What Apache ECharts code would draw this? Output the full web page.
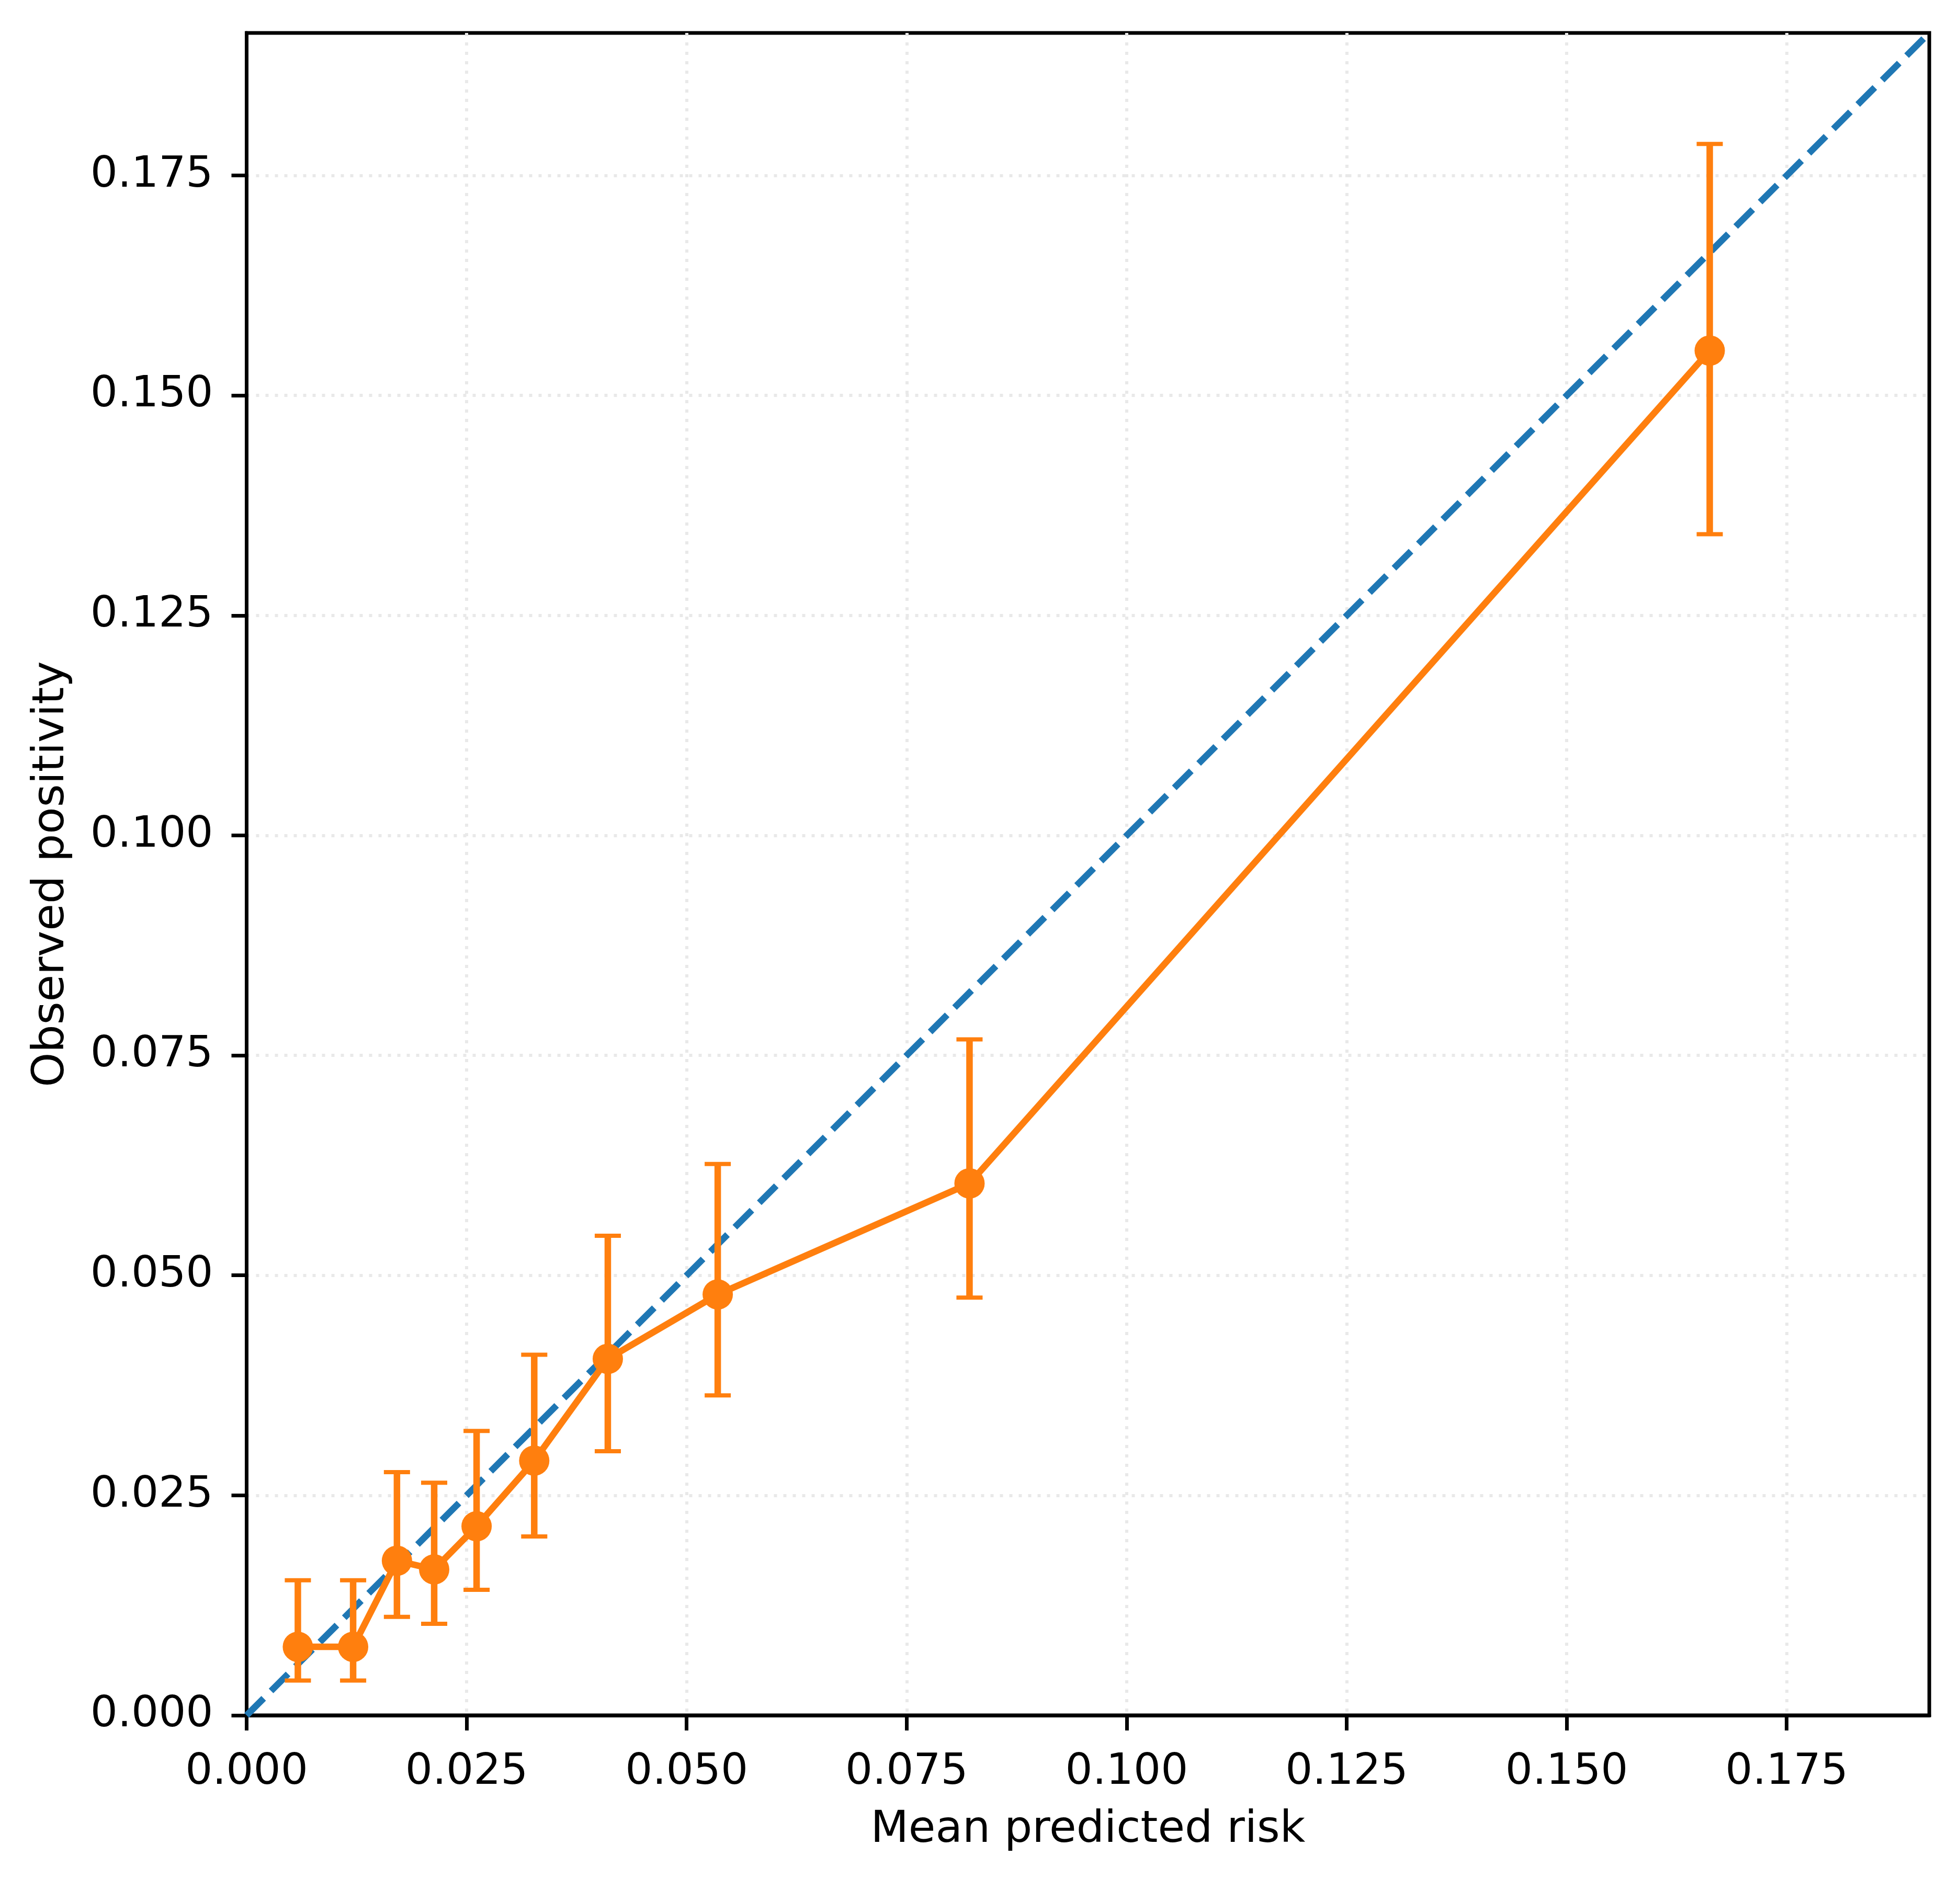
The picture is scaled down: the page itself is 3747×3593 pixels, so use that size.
<!DOCTYPE html>
<html>
<head>
<meta charset="utf-8">
<script src="https://cdn.jsdelivr.net/npm/echarts@6/dist/echarts.min.js"></script>
<style>
  html, body { margin: 0; padding: 0; background: #ffffff; }
  #chart { width: 3747px; height: 3593px; }
</style>
</head>
<body>
<div id="chart"></div>
<script>
// ---- data ----
const meanPredicted = [0.00582, 0.01210, 0.01708, 0.02131, 0.02613, 0.03268, 0.04104, 0.05353, 0.08214, 0.16625];
const observedPositivity = [0.00778, 0.00778, 0.01757, 0.01658, 0.02149, 0.02894, 0.04051, 0.04783, 0.06045, 0.15510];
const ciLower = [0.00395, 0.00395, 0.01119, 0.01040, 0.01426, 0.02033, 0.03002, 0.03636, 0.04747, 0.13423];
const ciUpper = [0.01535, 0.01535, 0.02764, 0.02644, 0.03231, 0.04098, 0.05450, 0.06266, 0.07682, 0.17859];
const axisLimit = 0.1912;
const tickValues = [0, 0.025, 0.05, 0.075, 0.1, 0.125, 0.15, 0.175];
const diagonal = [[0, 0], [axisLimit, axisLimit]];
const xTitle = 'Mean predicted risk';
const yTitle = 'Observed positivity';

const FONT = 'DejaVu Sans';
const FS = 84;
const TFS = 82;
const AXW = 7;

const pointData = meanPredicted.map((x, i) => [x, observedPositivity[i]]);
const errData = meanPredicted.map((x, i) => [x, ciLower[i], ciUpper[i]]);

function axisCommon(name, isX) {
  return {
    type: 'value',
    min: 0,
    max: axisLimit,
    interval: 0.025,
    name: name,
    nameLocation: 'middle',
    nameGap: isX ? 178 : 330,
    nameTextStyle: { fontFamily: FONT, fontSize: FS, color: '#000' },
    axisLine: { show: true, onZero: false, lineStyle: { color: '#000', width: AXW } },
    axisTick: { show: true, inside: false, length: 29, customValues: tickValues, lineStyle: { color: '#000', width: AXW } },
    axisLabel: {
      show: true,
      customValues: tickValues,
      margin: isX ? 69 : 64,
      fontFamily: FONT, fontSize: TFS, color: '#000',
      formatter: v => v.toFixed(3)
    },
    splitLine: { show: true, lineStyle: { color: '#e9e9e9', width: 6, type: [6, 12] } }
  };
}

const chart = echarts.init(document.getElementById('chart'), null, { renderer: 'canvas' });
chart.setOption({
  backgroundColor: '#ffffff',
  animation: false,
  grid: { left: 471.5, right: 58.7, top: 63, bottom: 313, show: true, borderColor: '#000', borderWidth: AXW, backgroundColor: 'transparent' },
  xAxis: axisCommon(xTitle, true),
  yAxis: axisCommon(yTitle, false),
  series: [
    {
      type: 'line',
      data: diagonal,
      symbol: 'none',
      lineStyle: { color: '#1f77b4', width: 12.5, type: [46, 20] },
      z: 2
    },
    {
      type: 'custom',
      data: errData,
      z: 3,
      renderItem: function (params, api) {
        const x = api.value(0);
        const lo = api.coord([x, api.value(1)]);
        const hi = api.coord([x, api.value(2)]);
        const half = 25;
        const col = '#ff7f0e';
        return {
          type: 'group',
          children: [
            { type: 'line', shape: { x1: lo[0], y1: lo[1], x2: hi[0], y2: hi[1] }, style: { stroke: col, lineWidth: 12.5 } },
            { type: 'line', shape: { x1: lo[0] - half, y1: lo[1], x2: lo[0] + half, y2: lo[1] }, style: { stroke: col, lineWidth: 8 } },
            { type: 'line', shape: { x1: hi[0] - half, y1: hi[1], x2: hi[0] + half, y2: hi[1] }, style: { stroke: col, lineWidth: 8 } }
          ]
        };
      }
    },
    {
      type: 'line',
      data: pointData,
      symbol: 'circle',
      symbolSize: 58,
      showAllSymbol: true,
      itemStyle: { color: '#ff7f0e', borderWidth: 0 },
      lineStyle: { color: '#ff7f0e', width: 12.5 },
      z: 4
    }
  ]
});
</script>
</body>
</html>
